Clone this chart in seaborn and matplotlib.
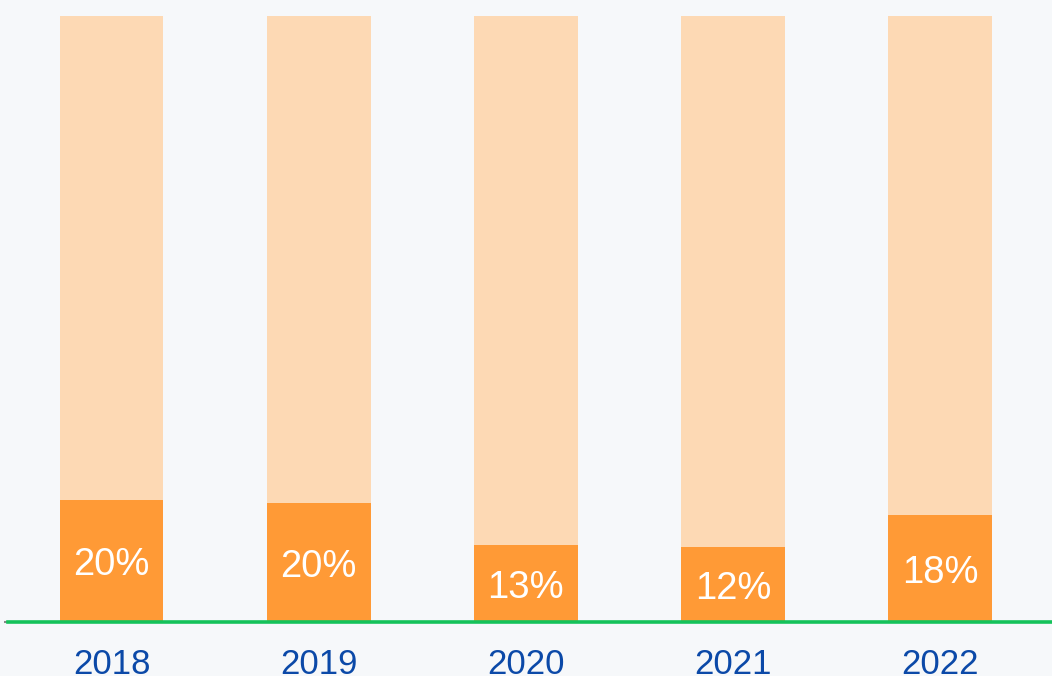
import matplotlib
matplotlib.use("Agg")
import matplotlib.pyplot as plt
import seaborn as sns
import pandas as pd

years = ["2018", "2019", "2020", "2021", "2022"]
share = [20.1, 19.6, 12.7, 12.4, 17.6]
total = [100, 100, 100, 100, 100]

df = pd.DataFrame({"year": years, "share": share, "total": total})

sns.set_style("white")
plt.rcParams["font.family"] = ["Liberation Sans", "DejaVu Sans"]

bg = "#f6f8fa"
fig = plt.figure(figsize=(10.52, 6.76), dpi=100, facecolor=bg)
ax = fig.add_axes([8 / 1052, 54 / 676, 1 - 8 / 1052, 606 / 676])
ax.set_facecolor(bg)

sns.barplot(data=df, x="year", y="total", color="#fdd9b4", width=0.5,
            saturation=1, linewidth=0, ax=ax)
sns.barplot(data=df, x="year", y="share", color="#ff9a36", width=0.5,
            saturation=1, linewidth=0, ax=ax)

# percentage labels in the middle of the dark segment
for i, v in enumerate(share):
    ax.annotate(f"{v:.0f}%", (i, v / 2), xytext=(0, -3),
                textcoords="offset points", ha="center", va="center",
                color="white", fontsize=27.5)

ax.set_xlim(-0.5, 4.54)
ax.set_ylim(0, 100)
ax.set_xlabel("")
ax.set_ylabel("")
ax.set_yticks([0])
ax.set_yticklabels([""])
ax.tick_params(axis="y", length=3, width=1.5, color="#888888", left=True)
ax.tick_params(axis="x", length=0, pad=19, labelsize=25, labelcolor="#0b49a8")

for side in ["top", "right", "left"]:
    ax.spines[side].set_visible(False)
ax.spines["bottom"].set_color("#14c25a")
ax.spines["bottom"].set_linewidth(2.6)

fig.savefig("out.png", dpi=100, facecolor=bg)
